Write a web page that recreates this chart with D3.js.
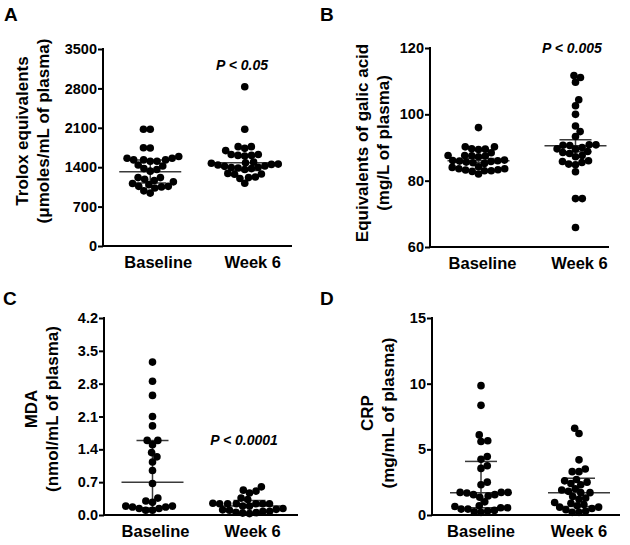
<!DOCTYPE html>
<html>
<head>
<meta charset="utf-8">
<script src="https://d3js.org/d3.v7.min.js"></script>
<style>
  body { margin: 0; background: #fff; }
  text { font-family: "Liberation Sans", Arial, sans-serif; font-weight: bold; fill: #000; }
</style>
</head>
<body>
<div id="my_dataviz"></div>
<script>
// Categories on every x axis
var groups = ["Baseline", "Week 6"]

// A - Trolox equivalents (umoles/mL)
var troloxBaseline = [2075, 2075, 1745, 1740, 1590, 1560, 1530, 1505, 1505, 1530, 1530, 1560, 1440, 1360, 1375,
                      1330, 1420, 1215, 1165, 1110, 1090, 1140, 1185, 1215, 1060, 1030, 940, 980, 1050, 1060]
var troloxWeek6 = [2830, 2075, 1765, 1765, 1735, 1695, 1625, 1610, 1600, 1610, 1625, 1480, 1450, 1420, 1470, 1440,
                   1455, 1490, 1415, 1400, 1375, 1395, 1360, 1385, 1290, 1275, 1280, 1215, 1200, 1225, 1115]
var troloxSummary = [[1320, 1120, 1530], [1480, 1340, 1620]]   // centre, low, high
var troloxTicks = [0, 700, 1400, 2100, 2800, 3500]

// B - Equivalents of galic acid (mg/L)
var galicBaseline = [96.0, 90.2, 90.2, 89.6, 89.5, 89.4, 88.4, 87.6, 87.6, 87.5, 87.4, 87.2, 86.2, 86.0, 85.8,
                     85.6, 85.4, 85.2, 85.9, 86.1, 84.0, 83.6, 83.2, 83.0, 82.8, 82.0, 83.0, 83.3, 83.6, 84.2]
var galicWeek6 = [111.7, 111.1, 109.7, 104.4, 102.6, 100.0, 96.5, 94.8, 93.3, 90.8, 90.7, 90.6, 90.8, 90.0, 89.5,
                  89.6, 88.8, 88.2, 88.5, 87.6, 87.2, 86.0, 85.8, 85.0, 85.5, 84.8, 82.7, 74.6, 74.6, 65.9]
var galicSummary = [[86.0, 85.4, 86.7], [90.5, 88.7, 92.3]]
var galicTicks = [60, 80, 100, 120]

// C - MDA (nmol/mL)
var mdaBaseline = [3.26, 2.85, 2.55, 2.10, 1.90, 1.59, 1.59, 1.50, 1.33, 1.24, 1.13, 0.95, 0.67, 0.36, 0.30,
                   0.27, 0.19, 0.17, 0.14, 0.10, 0.10, 0.14, 0.17, 0.19]
var mdaWeek6 = [0.60, 0.53, 0.51, 0.47, 0.36, 0.33, 0.25, 0.24, 0.24, 0.24, 0.24, 0.24, 0.24, 0.19, 0.19,
                0.14, 0.12, 0.10, 0.08, 0.06, 0.04, 0.03, 0.05, 0.08, 0.11]
var mdaSummary = [[0.70, 0.15, 1.59], [0.19, 0.05, 0.31]]
var mdaTicks = [0, 0.7, 1.4, 2.1, 2.8, 3.5, 4.2]

// D - CRP (mg/mL)
var crpBaseline = [9.85, 8.35, 6.1, 5.65, 5.6, 4.45, 4.25, 3.75, 3.55, 2.5, 2.3, 1.72, 1.68, 1.55, 1.45,
                   1.35, 1.55, 1.72, 1.72, 1.0, 0.65, 0.55, 0.45, 0.35, 0.25, 0.2, 0.3, 0.45, 0.55, 0.7]
var crpWeek6 = [6.6, 6.2, 4.2, 3.5, 3.3, 3.3, 2.7, 2.6, 2.5, 2.3, 2.4, 2.0, 1.8, 1.7, 1.7,
                1.9, 1.4, 1.2, 1.3, 0.95, 0.9, 0.8, 0.7, 0.6, 0.5, 0.4, 0.3, 0.2, 0.2, 0.6]
var crpSummary = [[1.70, 0.55, 4.08], [1.70, 0.65, 2.80]]
var crpTicks = [0, 5, 10, 15]

// Layout of the four panels
var panels = [
  {letter: "A", lx: 4, ly: 21, left: 103, right: 292, xEnd: 292, top: 49, bottom: 246, labelDx: 8,
   domain: [0, 3500], ticks: troloxTicks, fmt: d3.format("d"),
   series: [troloxBaseline, troloxWeek6], summary: troloxSummary,
   title: ["Trolox equivalents", "(\u03bcmoles/mL of plasma)"], titleX: 22, titleY: 131,
   p: "P < 0.05", px: 242, py: 70},
  {letter: "B", lx: 320, ly: 21, left: 430, right: 624, xEnd: 609, top: 48, bottom: 247, labelDx: 4,
   domain: [60, 120], ticks: galicTicks, fmt: d3.format("d"),
   series: [galicBaseline, galicWeek6], summary: galicSummary,
   title: ["Equivalents of galic acid", "(mg/L of plasma)"], titleX: 362, titleY: 143,
   p: "P < 0.005", px: 572, py: 53},
  {letter: "C", lx: 3, ly: 305, left: 104, right: 298, xEnd: 298, top: 318, bottom: 515, labelDx: 3,
   domain: [0, 4.2], ticks: mdaTicks, fmt: d3.format(".1f"),
   series: [mdaBaseline, mdaWeek6], summary: mdaSummary,
   title: ["MDA", "(nmol/mL of plasma)"], titleX: 31, titleY: 409,
   p: "P < 0.0001", px: 244, py: 445},
  {letter: "D", lx: 320, ly: 305, left: 432, right: 628, xEnd: 620, top: 318, bottom: 515, labelDx: 0,
   domain: [0, 15], ticks: crpTicks, fmt: d3.format("d"),
   series: [crpBaseline, crpWeek6], summary: crpSummary,
   title: ["CRP", "(mg/mL of plasma)"], titleX: 367, titleY: 413,
   p: null}
]

var r = 3.8,
    gap = 6.8   // dots may overlap a little, like the original layout

var svg = d3.select("#my_dataviz")
  .append("svg")
    .attr("width", 630)
    .attr("height", 545)

// simple beeswarm: each dot goes as close to the centre line as it can without overlap
function swarm(values, y, cx) {
  var d = gap
  var placed = []
  var order = values.map(function(v, i) { return i })
    .sort(function(a, b) { return values[a] - values[b] })
  order.forEach(function(i, k) {
    var py = y(values[i])
    var iv = []
    placed.forEach(function(p) {
      var dy = Math.abs(p.y - py)
      if (dy < d) {
        var dx = Math.sqrt(d * d - dy * dy)
        iv.push([p.x - dx, p.x + dx])
      }
    })
    var cands = [0]
    iv.forEach(function(a) { cands.push(a[0], a[1]) })
    cands.sort(function(a, b) {
      return (Math.abs(a) - Math.abs(b)) || (k % 2 ? a - b : b - a)
    })
    var x = cands.find(function(c) {
      return iv.every(function(a) { return c <= a[0] + 1e-6 || c >= a[1] - 1e-6 })
    })
    placed.push({x: x, y: py})
  })
  return placed.map(function(p) { return {x: cx + p.x, y: p.y} })
}

panels.forEach(function(P) {

  var g = svg.append("g")

  // Scales
  var x = d3.scalePoint()
    .domain(groups)
    .range([P.left, P.right])
    .padding(0.5)

  var y = d3.scaleLinear()
    .domain(P.domain)
    .range([P.bottom, P.top])

  // Panel letter
  g.append("text")
    .attr("x", P.lx)
    .attr("y", P.ly)
    .style("font-size", "19px")
    .text(P.letter)

  // Y axis
  var ya = g.append("g")
    .attr("transform", "translate(" + P.left + ",0)")
    .call(d3.axisLeft(y).tickValues(P.ticks).tickFormat(P.fmt).tickSize(5).tickPadding(1))
  ya.select(".domain").attr("stroke-width", 2).attr("d", "M0," + (P.top - 1) + "V" + (P.bottom + 1))
  ya.selectAll(".tick line").attr("stroke-width", 2)
  ya.selectAll(".tick text")
    .style("font-size", "14.5px")
    .style("font-family", "'Liberation Sans', Arial, sans-serif")
    .style("font-weight", "bold")
    .attr("fill", "#000")

  // X axis line
  g.append("line")
    .attr("x1", P.left - 1).attr("x2", P.xEnd)
    .attr("y1", P.bottom).attr("y2", P.bottom)
    .attr("stroke", "#000")
    .attr("stroke-width", 2)

  // Category labels
  g.selectAll(".cat")
    .data(groups)
    .enter()
    .append("text")
      .attr("class", "cat")
      .attr("x", function(d) { return x(d) + P.labelDx })
      .attr("y", P.bottom + 22)
      .attr("text-anchor", "middle")
      .style("font-size", "16.5px")
      .text(function(d) { return d })

  // Y title (two lines)
  P.title.forEach(function(t, i) {
    g.append("text")
      .attr("transform", "translate(" + (P.titleX + i * 21) + "," + P.titleY + ") rotate(-90)")
      .attr("text-anchor", "middle")
      .attr("dy", "0.35em")
      .style("font-size", "17px")
      .text(t)
  })

  // centre line with low / high caps
  groups.forEach(function(grp, j) {
    var s = P.summary[j], cx = x(grp)
    var sg = g.append("g")
      .attr("stroke", "#3a3a3a")
      .attr("stroke-width", 1.5)
    sg.append("line").attr("x1", cx - 31).attr("x2", cx + 31).attr("y1", y(s[0])).attr("y2", y(s[0]))
    sg.append("line").attr("x1", cx).attr("x2", cx).attr("y1", y(s[1])).attr("y2", y(s[2]))
    sg.append("line").attr("x1", cx - 16).attr("x2", cx + 16).attr("y1", y(s[1])).attr("y2", y(s[1]))
    sg.append("line").attr("x1", cx - 16).attr("x2", cx + 16).attr("y1", y(s[2])).attr("y2", y(s[2]))
  })

  // Dots
  groups.forEach(function(grp, j) {
    g.append("g")
      .selectAll("circle")
      .data(swarm(P.series[j], y, x(grp)))
      .enter()
      .append("circle")
        .attr("cx", function(d) { return d.x })
        .attr("cy", function(d) { return d.y })
        .attr("r", r)
        .attr("fill", "#000")
  })

  // P value
  if (P.p) {
    g.append("text")
      .attr("x", P.px)
      .attr("y", P.py)
      .attr("text-anchor", "middle")
      .style("font-size", "14px")
      .style("font-style", "italic")
      .text(P.p)
  }
})
</script>
</body>
</html>
